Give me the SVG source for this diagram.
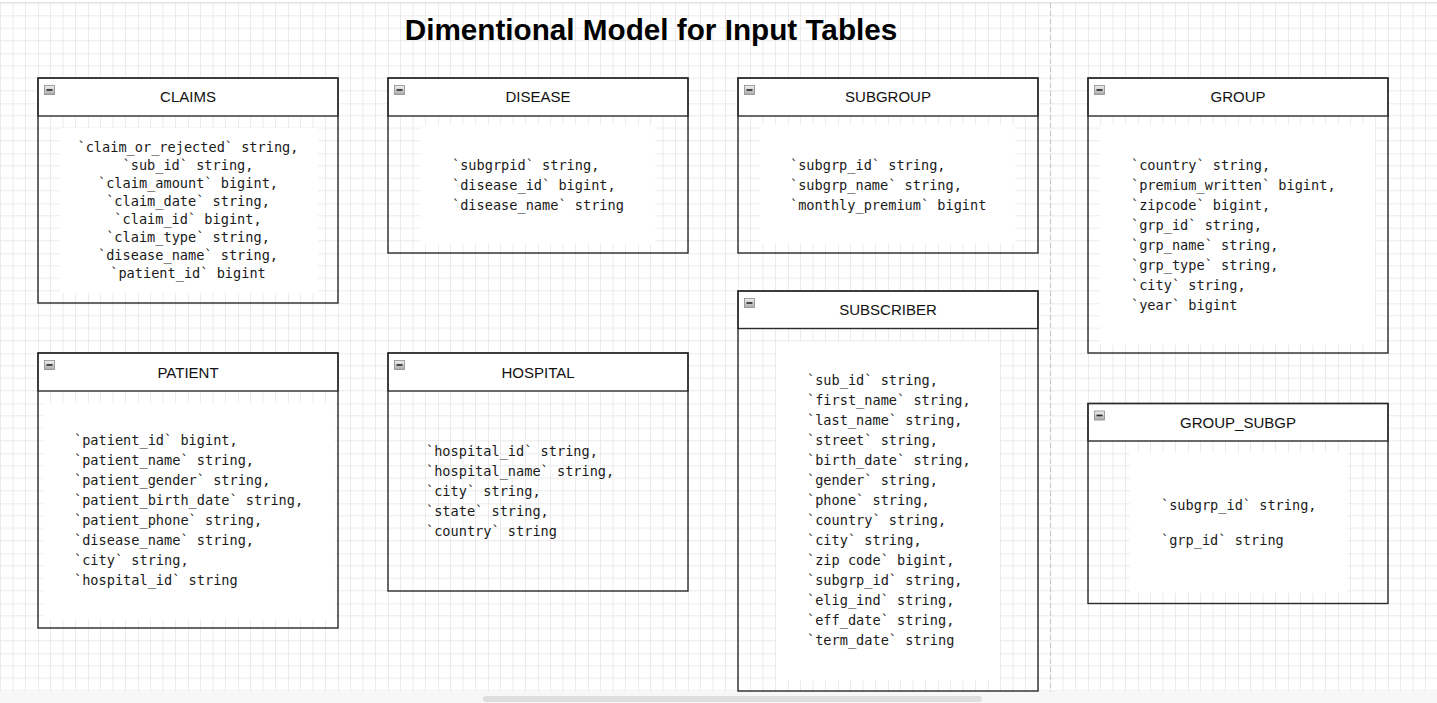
<svg xmlns="http://www.w3.org/2000/svg" width="1437" height="703" viewBox="0 0 1437 703">
<style>
.box{fill:none;stroke:#2b2b2b;stroke-width:1.4}
.hdr{fill:#fff;stroke:#2b2b2b;stroke-width:1.4}
.bg{fill:#fff}
.ttl{font-family:"Liberation Sans",Arial,sans-serif;font-size:15px;fill:#111;text-anchor:middle}
.mono{font-family:"DejaVu Sans Mono","Liberation Mono",monospace;font-size:13.6px;fill:#1a1a1a;white-space:pre}
.ctr{text-anchor:middle}
.ico{fill:url(#icoGrad);stroke:#8a8a8a;stroke-width:0.8}
.dash{stroke:#222;stroke-width:1.6}
</style>
<defs>
<pattern id="grid" patternUnits="userSpaceOnUse" x="38" y="3.3" width="50" height="50">
<path d="M12.5 0V50M25 0V50M37.5 0V50M0 12.5H50M0 25H50M0 37.5H50" stroke="#ebebeb" stroke-width="1" fill="none"/>
<path d="M0 0V50M0 0H50" stroke="#d9d9d9" stroke-width="1" fill="none"/>
</pattern>
<linearGradient id="icoGrad" x1="0" y1="0" x2="0" y2="1">
<stop offset="0" stop-color="#f2f2f2"/>
<stop offset="1" stop-color="#a8a8a8"/>
</linearGradient>
<g id="minus"><rect class="ico" x="0" y="0" width="10" height="9"/><line class="dash" x1="2" y1="4.5" x2="8" y2="4.5"/></g>
</defs>
<rect x="0" y="0" width="1437" height="703" fill="#fff"/>
<rect x="0" y="3" width="1437" height="689" fill="url(#grid)"/>
<line x1="0" y1="2.5" x2="1437" y2="2.5" stroke="#e2e2e2" stroke-width="1"/>
<rect x="0" y="692" width="1437" height="11" fill="#f7f7f7"/>
<rect x="483" y="696" width="499" height="6" rx="3" fill="#dedede"/>
<line x1="1050.5" y1="3" x2="1050.5" y2="692" stroke="#c4c4c4" stroke-width="1" stroke-dasharray="5 3"/>

<text x="651" y="40" font-family="'Liberation Sans',Arial,sans-serif" font-size="29.7" font-weight="bold" text-anchor="middle" fill="#000">Dimentional Model for Input Tables</text>

<g id="connectors"/>

<g id="claims">
<rect class="bg" x="60" y="128" width="258" height="165"/>
<rect class="hdr" x="38" y="78" width="300" height="38"/>
<rect class="box" x="38" y="78" width="300" height="225"/>
<use href="#minus" x="44.5" y="85.5"/>
<text class="ttl" x="188" y="102">CLAIMS</text>
<text class="mono ctr" x="188" y="151.5">`claim_or_rejected` string,</text>
<text class="mono ctr" x="188" y="169.5">`sub_id` string,</text>
<text class="mono ctr" x="188" y="187.5">`claim_amount` bigint,</text>
<text class="mono ctr" x="188" y="205.5">`claim_date` string,</text>
<text class="mono ctr" x="188" y="223.5">`claim_id` bigint,</text>
<text class="mono ctr" x="188" y="241.5">`claim_type` string,</text>
<text class="mono ctr" x="188" y="259.5">`disease_name` string,</text>
<text class="mono ctr" x="188" y="277.5">`patient_id` bigint</text>
</g>

<g id="disease">
<rect class="bg" x="421" y="125" width="234" height="119"/>
<rect class="hdr" x="388" y="78" width="300" height="38"/>
<rect class="box" x="388" y="78" width="300" height="175"/>
<use href="#minus" x="394.5" y="85.5"/>
<text class="ttl" x="538" y="102">DISEASE</text>
<text class="mono" x="452" y="170">`subgrpid` string,</text>
<text class="mono" x="452" y="190">`disease_id` bigint,</text>
<text class="mono" x="452" y="210">`disease_name` string</text>
</g>

<g id="subgroup">
<rect class="bg" x="760" y="125" width="255" height="119"/>
<rect class="hdr" x="738" y="78" width="300" height="38"/>
<rect class="box" x="738" y="78" width="300" height="175"/>
<use href="#minus" x="744.5" y="85.5"/>
<text class="ttl" x="888" y="102">SUBGROUP</text>
<text class="mono" x="790" y="170">`subgrp_id` string,</text>
<text class="mono" x="790" y="190">`subgrp_name` string,</text>
<text class="mono" x="790" y="210">`monthly_premium` bigint</text>
</g>

<g id="group">
<rect class="bg" x="1100" y="125" width="275" height="220"/>
<rect class="hdr" x="1088" y="78" width="300" height="38"/>
<rect class="box" x="1088" y="78" width="300" height="275"/>
<use href="#minus" x="1094.5" y="85.5"/>
<text class="ttl" x="1238" y="102">GROUP</text>
<text class="mono" x="1131" y="170">`country` string,</text>
<text class="mono" x="1131" y="190">`premium_written` bigint,</text>
<text class="mono" x="1131" y="210">`zipcode` bigint,</text>
<text class="mono" x="1131" y="230">`grp_id` string,</text>
<text class="mono" x="1131" y="250">`grp_name` string,</text>
<text class="mono" x="1131" y="270">`grp_type` string,</text>
<text class="mono" x="1131" y="290">`city` string,</text>
<text class="mono" x="1131" y="310">`year` bigint</text>
</g>

<g id="patient">
<rect class="bg" x="43" y="403" width="292" height="216"/>
<rect class="hdr" x="38" y="353" width="300" height="38"/>
<rect class="box" x="38" y="353" width="300" height="275"/>
<use href="#minus" x="44.5" y="360.5"/>
<text class="ttl" x="188" y="378">PATIENT</text>
<text class="mono" x="74" y="445">`patient_id` bigint,</text>
<text class="mono" x="74" y="465">`patient_name` string,</text>
<text class="mono" x="74" y="485">`patient_gender` string,</text>
<text class="mono" x="74" y="505">`patient_birth_date` string,</text>
<text class="mono" x="74" y="525">`patient_phone` string,</text>
<text class="mono" x="74" y="545">`disease_name` string,</text>
<text class="mono" x="74" y="565">`city` string,</text>
<text class="mono" x="74" y="585">`hospital_id` string</text>
</g>

<g id="hospital">
<rect class="hdr" x="388" y="353" width="300" height="38"/>
<rect class="box" x="388" y="353" width="300" height="238"/>
<use href="#minus" x="394.5" y="360.5"/>
<text class="ttl" x="538" y="378">HOSPITAL</text>
<text class="mono" x="426" y="456">`hospital_id` string,</text>
<text class="mono" x="426" y="476">`hospital_name` string,</text>
<text class="mono" x="426" y="496">`city` string,</text>
<text class="mono" x="426" y="516">`state` string,</text>
<text class="mono" x="426" y="536">`country` string</text>
</g>

<g id="subscriber">
<rect class="bg" x="776" y="342" width="224" height="338"/>
<rect class="hdr" x="738" y="291" width="300" height="37.5"/>
<rect class="box" x="738" y="291" width="300" height="400"/>
<use href="#minus" x="744.5" y="298.5"/>
<text class="ttl" x="888" y="315">SUBSCRIBER</text>
<text class="mono" x="807" y="385">`sub_id` string,</text>
<text class="mono" x="807" y="405">`first_name` string,</text>
<text class="mono" x="807" y="425">`last_name` string,</text>
<text class="mono" x="807" y="445">`street` string,</text>
<text class="mono" x="807" y="465">`birth_date` string,</text>
<text class="mono" x="807" y="485">`gender` string,</text>
<text class="mono" x="807" y="505">`phone` string,</text>
<text class="mono" x="807" y="525">`country` string,</text>
<text class="mono" x="807" y="545">`city` string,</text>
<text class="mono" x="807" y="565">`zip code` bigint,</text>
<text class="mono" x="807" y="585">`subgrp_id` string,</text>
<text class="mono" x="807" y="605">`elig_ind` string,</text>
<text class="mono" x="807" y="625">`eff_date` string,</text>
<text class="mono" x="807" y="645">`term_date` string</text>
</g>

<g id="group_subgp">
<rect class="bg" x="1130" y="453" width="217" height="140"/>
<rect class="hdr" x="1088" y="403.5" width="300" height="37.5"/>
<rect class="box" x="1088" y="403.5" width="300" height="200"/>
<use href="#minus" x="1094.5" y="411"/>
<text class="ttl" x="1238" y="428">GROUP_SUBGP</text>
<text class="mono" x="1161" y="510">`subgrp_id` string,</text>
<text class="mono" x="1161" y="545">`grp_id` string</text>
</g>
</svg>
